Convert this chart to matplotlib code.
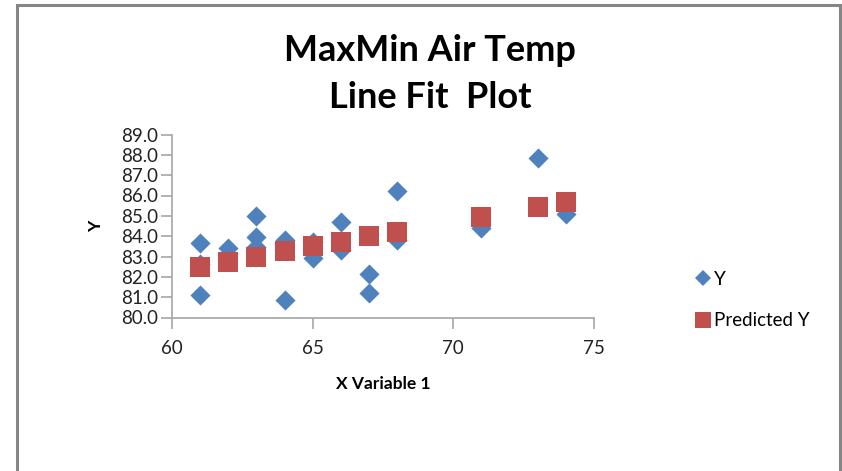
import matplotlib
matplotlib.use("Agg")
import matplotlib.pyplot as plt
from matplotlib.lines import Line2D
from matplotlib.patches import Rectangle

plt.rcParams['font.family'] = ['Lato', 'DejaVu Sans']

# Data
x_obs = [61, 61, 61, 62, 63, 63, 63, 64, 64, 65, 65, 66, 66, 67, 67, 68, 68, 71, 73, 74]
y_obs = [83.65, 81.1, 82.65, 83.4, 85.0, 83.95, 83.45, 83.8, 80.85, 83.7, 82.95,
         84.7, 83.3, 82.15, 81.2, 86.2, 83.8, 84.4, 87.85, 85.1]
x_pred = [61, 62, 63, 64, 65, 66, 67, 68, 71, 73, 74]
y_pred = [82.47, 82.75, 82.97, 83.26, 83.5, 83.7, 84.0, 84.2, 84.93, 85.43, 85.67]

x_ticks = [60, 65, 70, 75]
y_ticks = [80.0, 81.0, 82.0, 83.0, 84.0, 85.0, 86.0, 87.0, 88.0, 89.0]

title = "MaxMin Air Temp\nLine Fit  Plot"
xlabel = "X Variable 1"
ylabel = "Y"

blue = "#4f81bd"
red = "#c0504d"
axis_col = "#a6a6a6"

fig = plt.figure(figsize=(8.42, 4.71), dpi=100)
W, H = 842, 471

# outer chart border (gray)
fig.add_artist(Rectangle((17 / W, -0.05), (840 - 17) / W, (471 - 5) / H + 0.05,
                         transform=fig.transFigure, fill=False,
                         edgecolor="#868686", linewidth=2.2))

ax = fig.add_axes([172 / W, 1 - 317.5 / H, (594 - 172) / W, (317.5 - 134.5) / H])
ax.set_xlim(60, 75)
ax.set_ylim(80, 89)

ax.scatter(x_obs, y_obs, marker="D", s=105, color=blue, linewidths=0, zorder=3, label="Y")
ax.scatter(x_pred, y_pred, marker="s", s=200, color=red, linewidths=0, zorder=4, label="Predicted Y")

ax.set_xticks(x_ticks)
ax.set_xticklabels([str(v) for v in x_ticks])
ax.set_yticks(y_ticks)
ax.set_yticklabels([f"{v:.1f}" for v in y_ticks])

for s in ["top", "right"]:
    ax.spines[s].set_visible(False)
for s in ["left", "bottom"]:
    ax.spines[s].set_color(axis_col)
    ax.spines[s].set_linewidth(1.2)
ax.tick_params(axis="both", colors=axis_col, length=8, width=1.2, direction="out")
ax.tick_params(axis="y", labelcolor="#222222", labelsize=13.5, pad=2)
ax.tick_params(axis="x", labelcolor="#222222", labelsize=13.5, pad=8)

ax.set_xlabel(xlabel, fontsize=12.5, fontweight="bold", labelpad=14)
ax.set_ylabel(ylabel, fontsize=12.5, fontweight="bold", labelpad=12)

fig.text(430 / W, 1 - 74 / H, title, ha="center", va="center", fontsize=26,
         fontweight="bold", linespacing=1.5)

handles = [
    Line2D([], [], marker="D", color=blue, linestyle="none", markersize=8.5, markeredgewidth=0),
    Line2D([], [], marker="s", color=red, linestyle="none", markersize=12, markeredgewidth=0),
]
fig.legend(handles, ["Y", "Predicted Y"], loc="center left",
           bbox_to_anchor=(678 / W, 1 - 300 / H), frameon=False, fontsize=13.5,
           handlelength=0.9, handletextpad=0.1, labelspacing=1.3)

fig.savefig("out.png", dpi=100)
